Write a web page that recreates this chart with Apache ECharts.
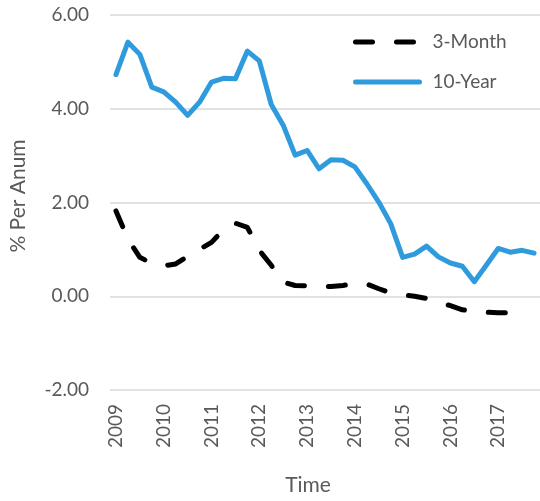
<!DOCTYPE html>
<html>
<head>
<meta charset="utf-8">
<script src="https://cdn.jsdelivr.net/npm/echarts@6/dist/echarts.min.js"></script>
<style>
  html, body { margin: 0; padding: 0; background: #fff; }
  #chart { width: 540px; height: 501px; }
</style>
</head>
<body>
<div id="chart"></div>
<script>
// Quarterly periods, 2009 Q1 to 2017 Q4
const years = ['2009', '2010', '2011', '2012', '2013', '2014', '2015', '2016', '2017'];
const quarters = ['Q1', 'Q2', 'Q3', 'Q4'];
const periods = [];
years.forEach(y => quarters.forEach(q => periods.push(y + ' ' + q)));

// Yields, % per annum
const threeMonth = [
  1.82, 1.22, 0.83, 0.70, 0.65, 0.69, 0.85, 1.00,
  1.15, 1.42, 1.56, 1.47, 0.98, 0.66, 0.30, 0.23,
  0.22, 0.21, 0.21, 0.23, 0.27, 0.26, 0.16, 0.07,
  0.03, 0.00, -0.05, -0.13, -0.20, -0.29, -0.32, -0.34,
  -0.35, -0.35
];
const tenYear = [
  4.73, 5.42, 5.16, 4.46, 4.36, 4.14, 3.86, 4.14,
  4.57, 4.65, 4.64, 5.23, 5.02, 4.09, 3.65, 3.01,
  3.11, 2.72, 2.91, 2.90, 2.76, 2.40, 2.01, 1.55,
  0.83, 0.90, 1.07, 0.84, 0.71, 0.64, 0.31, 0.66,
  1.02, 0.94, 0.98, 0.92
];
const yTicks = { min: -2, max: 6, step: 2 };

const textColor = '#595959';
const fontFamily = 'Lato, "Open Sans", sans-serif';
const dashPattern = [17, 24];

const chart = echarts.init(document.getElementById('chart'), null, { renderer: 'canvas' });
chart.setOption({
  animation: false,
  backgroundColor: '#ffffff',
  grid: { left: 110, top: 15, width: 434, height: 375, containLabel: false },
  legend: {
    orient: 'vertical',
    left: 353,
    top: 32,
    padding: 0,
    itemWidth: 64,
    itemHeight: 20,
    itemGap: 20,
    itemStyle: { opacity: 0 },
    lineStyle: { width: 5, cap: 'round' },
    textStyle: { color: textColor, fontSize: 19, fontFamily: fontFamily, lineHeight: 20, padding: [0, 0, 0, 8] },
    data: [
      { name: '3-Month', lineStyle: { color: '#000000', width: 5, type: dashPattern, cap: 'round' } },
      { name: '10-Year', lineStyle: { color: '#2F9BDC', width: 5, type: 'solid', cap: 'round' } }
    ]
  },
  xAxis: {
    type: 'category',
    data: periods,
    boundaryGap: true,
    axisLine: { show: false },
    axisTick: { show: false },
    splitLine: { show: false },
    axisLabel: {
      interval: 3,
      rotate: 90,
      margin: 14,
      color: textColor,
      fontSize: 19,
      fontFamily: fontFamily,
      formatter: v => v.split(' ')[0]
    }
  },
  yAxis: {
    type: 'value',
    min: yTicks.min,
    max: yTicks.max,
    interval: yTicks.step,
    axisLine: { show: false },
    axisTick: { show: false },
    splitLine: { lineStyle: { color: '#D9D9D9', width: 1.5 } },
    axisLabel: {
      margin: 21,
      color: textColor,
      fontSize: 19,
      fontFamily: fontFamily,
      formatter: v => v.toFixed(2)
    }
  },
  graphic: [
    {
      type: 'text',
      x: 18, y: 196,
      rotation: Math.PI / 2,
      style: { text: '% Per Anum', fill: textColor, font: '21px ' + fontFamily, align: 'center', verticalAlign: 'middle' }
    },
    {
      type: 'text',
      x: 308, y: 485,
      style: { text: 'Time', fill: textColor, font: '21px ' + fontFamily, align: 'center', verticalAlign: 'middle' }
    }
  ],
  series: [
    {
      name: '3-Month',
      type: 'line',
      data: threeMonth,
      symbol: 'none',
      lineStyle: { color: '#000000', width: 5, type: dashPattern, cap: 'round', join: 'round' },
      itemStyle: { color: '#000000' }
    },
    {
      name: '10-Year',
      type: 'line',
      data: tenYear,
      symbol: 'none',
      lineStyle: { color: '#2F9BDC', width: 5, cap: 'round', join: 'round' },
      itemStyle: { color: '#2F9BDC' }
    }
  ]
});
</script>
</body>
</html>
